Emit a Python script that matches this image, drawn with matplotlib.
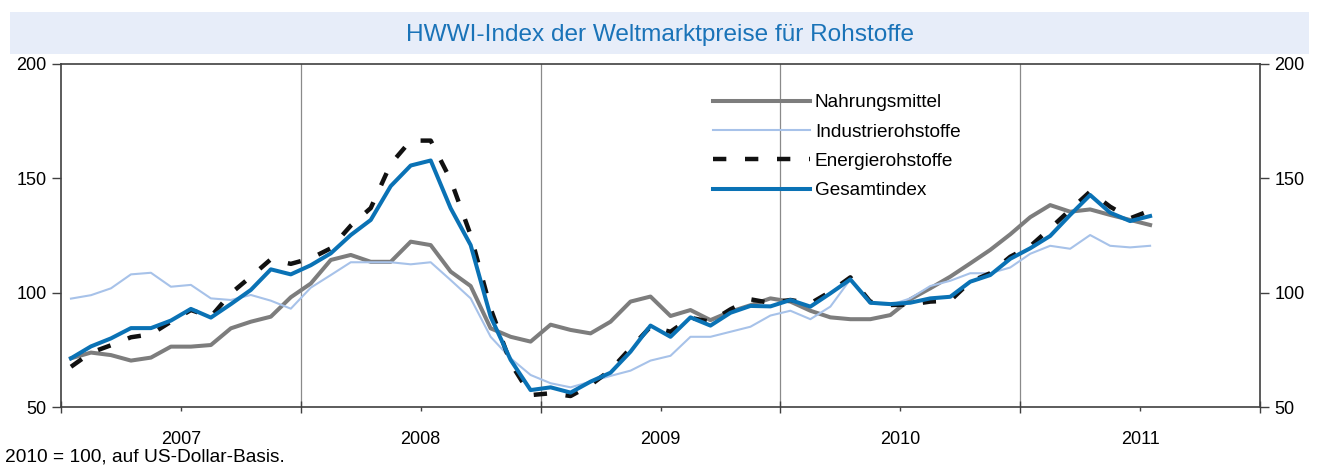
import numpy as np
import matplotlib
matplotlib.use("Agg")
import matplotlib.pyplot as plt
from matplotlib.patches import Rectangle

plt.rcParams['font.family'] = ['Liberation Sans', 'DejaVu Sans']

title = "HWWI-Index der Weltmarktpreise für Rohstoffe"
footnote = "2010 = 100, auf US-Dollar-Basis."
years = ["2007", "2008", "2009", "2010", "2011"]
labels = ["Nahrungsmittel", "Industrierohstoffe", "Energierohstoffe", "Gesamtindex"]

# monthly values, Jan 2007 .. Jul 2011
nahrung = [71.3, 73.8, 72.7, 70.3, 71.6, 76.4, 76.4, 77.1, 84.4, 87.3, 89.5, 98.0,
           104.0, 114.3, 116.5, 113.5, 113.5, 122.3, 120.8, 109.2, 102.9, 84.4, 80.7, 78.6,
           86.0, 83.7, 82.2, 87.3, 96.1, 98.3, 89.8, 92.4, 88.0, 91.7, 94.5, 97.5,
           96.1, 92.1, 89.2, 88.4, 88.4, 90.2, 97.1, 101.9, 107.0, 112.8, 118.7, 125.5,
           133.0, 138.3, 135.4, 136.4, 134.0, 131.8, 129.6]
industrie = [97.4, 98.9, 101.9, 108.0, 108.7, 102.6, 103.4, 97.5, 96.8, 99.0, 96.5, 93.0,
             102.2, 107.7, 113.3, 113.3, 113.3, 112.4, 113.3, 105.5, 97.5, 80.7, 71.3, 64.0,
             60.4, 58.6, 61.1, 63.6, 65.9, 70.3, 72.4, 80.7, 80.7, 82.9, 85.1, 90.0,
             92.1, 88.4, 93.9, 105.8, 95.3, 94.6, 97.5, 102.9, 105.2, 108.5, 108.5, 111.0,
             117.0, 120.5, 119.2, 125.2, 120.5, 119.8, 120.5]
energie = [67.6, 73.8, 77.0, 80.5, 81.8, 87.3, 92.4, 89.5, 99.7, 107.0, 114.6, 112.6,
           115.0, 119.4, 129.3, 137.0, 156.3, 166.5, 166.5, 149.3, 125.2, 93.0, 69.2, 55.2,
           56.0, 54.8, 59.6, 66.2, 75.7, 85.1, 82.9, 89.0, 87.3, 92.7, 97.1, 95.5,
           96.8, 95.3, 100.4, 106.7, 96.0, 94.6, 94.8, 96.1, 96.5, 104.8, 108.5, 115.7,
           120.3, 128.1, 136.2, 144.2, 137.6, 132.5, 135.9]
gesamt = [71.3, 76.5, 80.0, 84.5, 84.5, 87.8, 92.9, 89.1, 95.0, 101.2, 110.2, 108.0,
          112.0, 117.2, 125.2, 131.8, 146.6, 155.6, 157.8, 136.9, 120.8, 89.5, 70.6, 57.4,
          58.6, 56.3, 61.1, 65.0, 74.2, 85.6, 80.7, 89.2, 85.6, 91.2, 94.2, 94.0,
          96.8, 93.9, 99.7, 105.8, 95.6, 95.0, 95.6, 97.5, 98.2, 104.8, 107.7, 114.8,
          119.4, 124.8, 134.0, 142.7, 135.0, 131.3, 133.5]

W, H = 1319, 466
fig = plt.figure(figsize=(W / 100, H / 100), dpi=100)

# title banner
fig.patches.append(Rectangle((10 / W, 1 - 54 / H), 1299 / W, 42 / H,
                             transform=fig.transFigure, facecolor='#e7edf9',
                             edgecolor='none', zorder=0))
fig.text(660 / W, 1 - 35 / H, title, ha='center', va='center',
         fontsize=17.6, color='#1a73b8')

ax = fig.add_axes([61 / W, 1 - 407 / H, 1199 / W, 343 / H])

x = np.arange(len(gesamt)) + 0.5
ax.plot(x, nahrung, color='#7d7d7d', lw=2.9, label=labels[0])
ax.plot(x, industrie, color='#a7c2e9', lw=1.5, label=labels[1])
ax.plot(x, energie, color='#111111', lw=3.2, dashes=(3.0, 4.2), label=labels[2])
ax.plot(x, gesamt, color='#0a72b5', lw=2.9, label=labels[3])

nyears = len(years)
ax.set_xlim(0, 12 * nyears)
ax.set_ylim(50, 200)
for k in range(1, nyears):
    ax.axvline(12 * k, color='#8a8a8a', lw=0.9, zorder=0)

ax.set_xticks(np.arange(0, 12 * nyears + 1, 12))
ax.set_xticklabels([])
ax.set_xticks(np.arange(6, 12 * nyears, 12), minor=True)
ax.set_xticklabels(years, minor=True)
ax.tick_params(axis='x', which='major', direction='inout', length=8, width=1, color='#404040')
ax.tick_params(axis='x', which='minor', direction='out', length=3, width=1, color='#404040',
               labelsize=13, pad=14)
ax.set_yticks([50, 100, 150, 200])
ax.tick_params(axis='y', which='major', direction='out', length=6.5, width=1, color='#404040',
               labelsize=13, right=True, labelright=True, pad=4)

for s in ax.spines.values():
    s.set_color('#404040')
    s.set_linewidth(1.2)

ax.legend(loc='upper left', bbox_to_anchor=(713 / W, 1 - 94 / H),
          bbox_transform=fig.transFigure, frameon=False, fontsize=13.7,
          handlelength=5.1, handletextpad=0.25, labelspacing=0.63,
          borderpad=0, borderaxespad=0)

fig.text(5 / W, 1 - 457 / H, footnote, ha='left', va='center', fontsize=13.8)

fig.savefig('out.png', dpi=100)
